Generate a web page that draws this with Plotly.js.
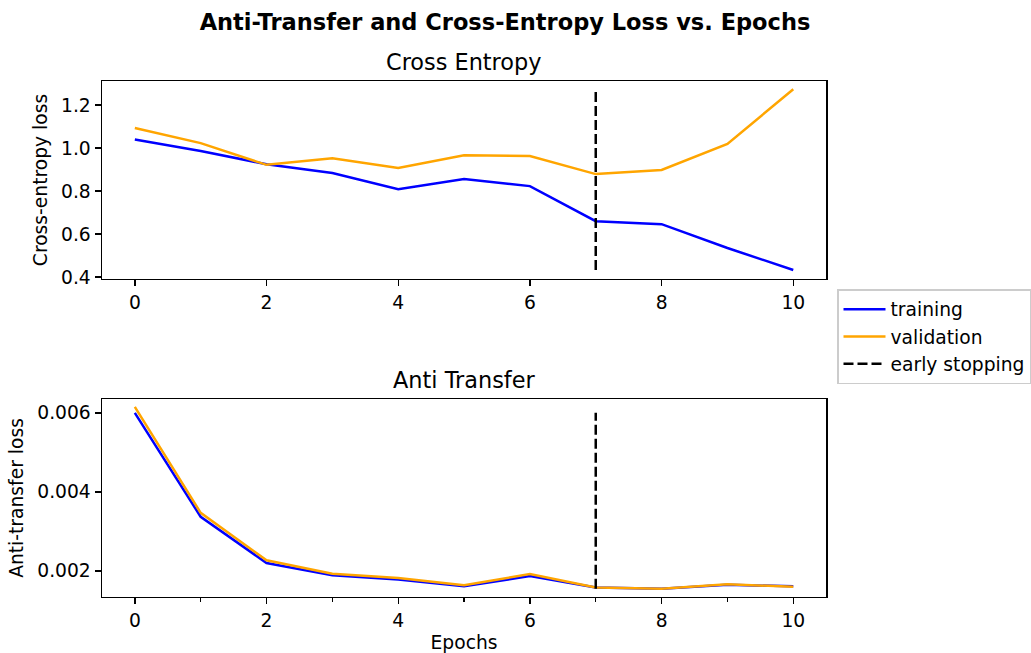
<!DOCTYPE html>
<html>
<head>
<meta charset="utf-8">
<script src="https://cdn.plot.ly/plotly-3.0.1.min.js"></script>
<style>html,body{margin:0;padding:0;background:#fff;}#chart{width:1031px;height:653px;}</style>
</head>
<body>
<div id="chart"></div>
<script>
const epochs = [0, 1, 2, 3, 4, 5, 6, 7, 8, 9, 10];
const ceTraining = [1.04, 0.986, 0.925, 0.884, 0.809, 0.856, 0.823, 0.66, 0.646, 0.535, 0.433];
const ceValidation = [1.093, 1.023, 0.922, 0.953, 0.907, 0.967, 0.963, 0.879, 0.898, 1.019, 1.274];
const atTraining = [0.0060, 0.00337, 0.00220, 0.00189, 0.00178, 0.00161, 0.00187, 0.00158, 0.00155, 0.00165, 0.00161];
const atValidation = [0.00615, 0.00347, 0.00227, 0.00193, 0.00182, 0.00164, 0.00192, 0.00158, 0.00155, 0.00166, 0.00160];
const earlyStopEpoch = 7;
const ceStopRange = [0.433, 1.274];
const atStopRange = [0.00155, 0.0060];

const FONT = "DejaVu Sans, sans-serif";
const BLUE = "#0000ff", ORANGE = "#ffa500";
const TS = 18.7, BIG = 22.4;

const traces = [
  {x: epochs, y: ceTraining, type: "scatter", mode: "lines", name: "training",
   line: {color: BLUE, width: 2.5}, xaxis: "x", yaxis: "y", legendgroup: "t"},
  {x: epochs, y: ceValidation, type: "scatter", mode: "lines", name: "validation",
   line: {color: ORANGE, width: 2.5}, xaxis: "x", yaxis: "y", legendgroup: "v"},
  {x: [earlyStopEpoch, earlyStopEpoch], y: ceStopRange, type: "scatter", mode: "lines", name: "early stopping",
   line: {color: "#000000", width: 2.5, dash: "10px,4px"}, xaxis: "x", yaxis: "y", legendgroup: "e"},
  {x: epochs, y: atTraining, type: "scatter", mode: "lines", name: "training", showlegend: false,
   line: {color: BLUE, width: 2.5}, xaxis: "x2", yaxis: "y2", legendgroup: "t"},
  {x: epochs, y: atValidation, type: "scatter", mode: "lines", name: "validation", showlegend: false,
   line: {color: ORANGE, width: 2.5}, xaxis: "x2", yaxis: "y2", legendgroup: "v"},
  {x: [earlyStopEpoch, earlyStopEpoch], y: atStopRange, type: "scatter", mode: "lines", name: "early stopping", showlegend: false,
   line: {color: "#000000", width: 2.5, dash: "10px,4px"}, xaxis: "x2", yaxis: "y2", legendgroup: "e"}
];

const H = 653, W = 1031;
const xDom = [102 / W, 827 / W];
const topDom = [1 - 279 / H, 1 - 81 / H];
const botDom = [1 - 597 / H, 1 - 399 / H];

const axisCommon = {
  showline: true, linecolor: "#000", linewidth: 1.4, mirror: true,
  ticks: "outside", ticklen: 6, tickwidth: 1.4, tickcolor: "#000",
  showgrid: false, zeroline: false, automargin: false,
  tickfont: {family: FONT, size: TS, color: "#000"}
};

const layout = {
  width: W, height: H,
  margin: {l: 0, r: 0, t: 0, b: 0},
  paper_bgcolor: "#fff", plot_bgcolor: "#fff",
  font: {family: FONT, color: "#000"},
  title: {text: "<b>Anti-Transfer and Cross-Entropy Loss vs. Epochs</b>",
          font: {family: FONT, size: 22.5, color: "#000"},
          x: 505 / W, xanchor: "center", y: 1 - 22 / H, yanchor: "middle"},
  xaxis: Object.assign({}, axisCommon, {domain: xDom, anchor: "y", range: [-0.5, 10.5],
          tickvals: [0, 2, 4, 6, 8, 10], ticktext: ["0", "2", "4", "6", "8", "10"]}),
  yaxis: Object.assign({}, axisCommon, {domain: topDom, anchor: "x", range: [0.391, 1.312],
          tickvals: [0.4, 0.6, 0.8, 1.0, 1.2], tickformat: ".1f",
          title: {text: "Cross-entropy loss", font: {family: FONT, size: TS, color: "#000"}, standoff: 8}}),
  xaxis2: Object.assign({}, axisCommon, {domain: xDom, anchor: "y2", range: [-0.5, 10.5],
          tickvals: [0, 2, 4, 6, 8, 10], ticktext: ["0", "2", "4", "6", "8", "10"],
          minor: {tickvals: [1, 3, 5, 7, 9], ticks: "outside", ticklen: 3.5, tickwidth: 1.2, tickcolor: "#000", showgrid: false},
          title: {text: "Epochs", font: {family: FONT, size: TS, color: "#000"}, standoff: 8}}),
  yaxis2: Object.assign({}, axisCommon, {domain: botDom, anchor: "x2", range: [0.00134, 0.00635],
          tickvals: [0.002, 0.004, 0.006], tickformat: ".3f",
          title: {text: "Anti-transfer loss", font: {family: FONT, size: TS, color: "#000"}, standoff: 8}}),
  legend: {x: 838 / W, y: 1 - 289 / H, xanchor: "left", yanchor: "top",
           bgcolor: "rgba(255,255,255,0.8)", bordercolor: "#cccccc", borderwidth: 1.5,
           itemwidth: 42,
           font: {family: FONT, size: TS, color: "#000"}, tracegroupgap: 0},
  annotations: [
    {text: "Cross Entropy", xref: "paper", yref: "paper", x: (xDom[0] + xDom[1]) / 2, y: topDom[1],
     xanchor: "center", yanchor: "bottom", yshift: 4, showarrow: false,
     font: {family: FONT, size: BIG, color: "#000"}},
    {text: "Anti Transfer", xref: "paper", yref: "paper", x: (xDom[0] + xDom[1]) / 2, y: botDom[1],
     xanchor: "center", yanchor: "bottom", yshift: 4, showarrow: false,
     font: {family: FONT, size: BIG, color: "#000"}}
  ],
  showlegend: true
};

Plotly.newPlot("chart", traces, layout, {displayModeBar: false, staticPlot: true});
</script>
</body>
</html>
